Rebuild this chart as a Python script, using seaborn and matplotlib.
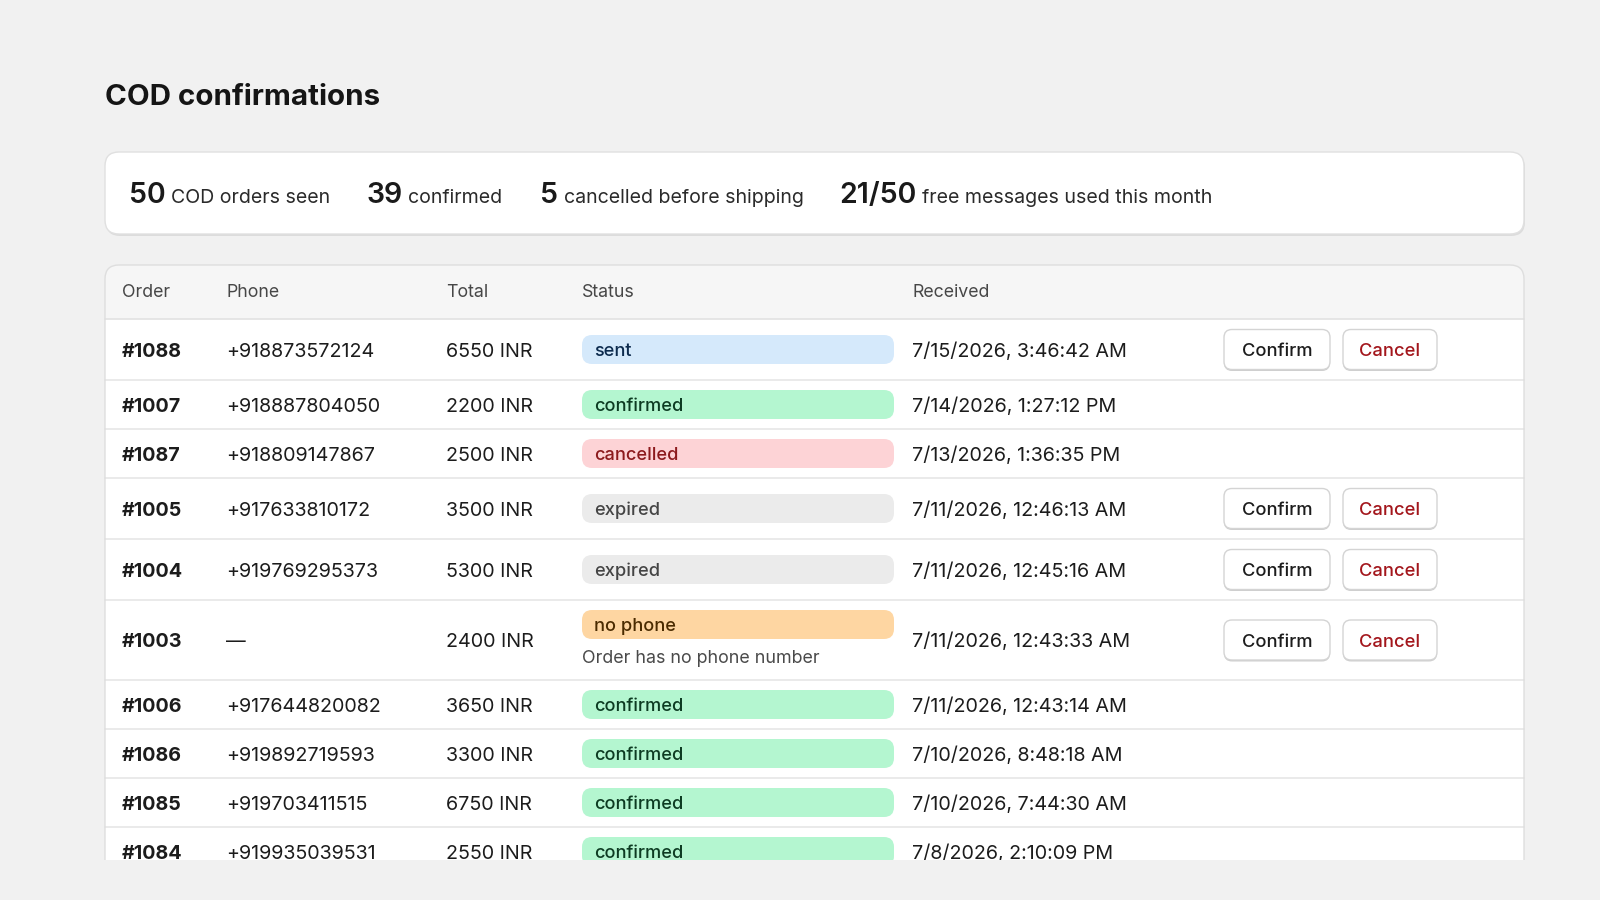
import matplotlib

matplotlib.use("Agg")
import matplotlib.pyplot as plt
import seaborn as sns
from matplotlib.patches import FancyBboxPatch, Rectangle

TITLE = "COD confirmations"

STAT_VALUES = ["50", "39", "5", "21/50"]
STAT_LABELS = ["COD orders seen", "confirmed", "cancelled before shipping", "free messages used this month"]

HEADERS = ["Order", "Phone", "Total", "Status", "Received"]

ORDERS = ["#1088", "#1007", "#1087", "#1005", "#1004", "#1003", "#1006", "#1086", "#1085", "#1084"]
PHONES = ["+918873572124", "+918887804050", "+918809147867", "+917633810172", "+919769295373",
          "—", "+917644820082", "+919892719593", "+919703411515", "+919935039531"]
TOTALS = [6550, 2200, 2500, 3500, 5300, 2400, 3650, 3300, 6750, 2550]
CURRENCY = "INR"
STATUSES = ["sent", "confirmed", "cancelled", "expired", "expired",
            "no phone", "confirmed", "confirmed", "confirmed", "confirmed"]
NOTES = ["", "", "", "", "", "Order has no phone number", "", "", "", ""]
RECEIVED = ["7/15/2026, 3:46:42 AM", "7/14/2026, 1:27:12 PM", "7/13/2026, 1:36:35 PM",
            "7/11/2026, 12:46:13 AM", "7/11/2026, 12:45:16 AM", "7/11/2026, 12:43:33 AM",
            "7/11/2026, 12:43:14 AM", "7/10/2026, 8:48:18 AM", "7/10/2026, 7:44:30 AM",
            "7/8/2026, 2:10:09 PM"]
HAS_ACTIONS = [True, False, False, True, True, True, False, False, False, False]

# pill fill / text colour per status
PILL_COLORS = {
    "sent": ("#d5e9fb", "#0d2b4e"),
    "confirmed": ("#b4f6d0", "#0d3b22"),
    "cancelled": ("#fdd3d6", "#8c1a1d"),
    "expired": ("#ebebeb", "#444444"),
    "no phone": ("#fed6a2", "#4a2b00"),
}

BG = "#f1f1f1"
TEXT = "#1c1c1c"
FONT = ["Inter", "DejaVu Sans"]


def cap(size):
    # cap height in pixels for Inter at dpi 100
    return size * 100 / 72 * 0.727


def put(ax, x, yc, s, size, **kw):
    kw.setdefault("color", TEXT)
    return ax.text(x, yc + cap(size) / 2, s, fontsize=size, va="baseline", family=FONT, **kw)


def rbox(ax, x0, y0, x1, y1, r, **kw):
    p = FancyBboxPatch((x0, y0), x1 - x0, y1 - y0, boxstyle=f"round,pad=0,rounding_size={r}", **kw)
    ax.add_patch(p)
    return p


def main():
    sns.set_theme(style="white")
    plt.rcParams["font.family"] = FONT

    fig = plt.figure(figsize=(16, 9), dpi=100, facecolor=BG)
    ax = fig.add_axes([0, 0, 1, 1])
    ax.set_xlim(0, 1600)
    ax.set_ylim(900, 0)
    ax.set_facecolor(BG)
    ax.axis("off")

    # title
    ax.text(105, 105, TITLE, fontsize=21.3, fontweight="bold", color="#151515", va="baseline", family=FONT)

    # stats card
    rbox(ax, 106, 154, 1525, 236, 14, facecolor="#dcdcdc", edgecolor="none", zorder=1)
    rbox(ax, 105, 152, 1524, 234, 14, facecolor="white", edgecolor="#e0e0e0", linewidth=1, zorder=2)
    fig.canvas.draw()
    renderer = fig.canvas.get_renderer()
    inv = ax.transData.inverted()
    stat_x = [129, 366, 540, 839]
    for x, val, lab in zip(stat_x, STAT_VALUES, STAT_LABELS):
        t = ax.text(x, 203, val, fontsize=20.5, fontweight=600, color="#1a1a1a", va="baseline",
                    family=FONT, zorder=3)
        bb = t.get_window_extent(renderer)
        x_end = inv.transform((bb.x1, bb.y0))[0]
        ax.text(x_end + 5.5, 203, lab, fontsize=14.1, color="#2a2a2a", va="baseline", family=FONT, zorder=3)

    # table card: fill, header band, then outline on top
    top, clip = 265, 860
    left, right = 105, 1524
    header_bottom = 319
    rbox(ax, left, top, right, 940, 14, facecolor="white", edgecolor="none", zorder=1)
    rbox(ax, left, top, right, header_bottom + 30, 14, facecolor="#f6f6f6", edgecolor="none", zorder=1.2)
    ax.add_patch(Rectangle((left, header_bottom), right - left, 30, facecolor="white",
                           edgecolor="none", zorder=1.3))
    rbox(ax, left, top, right, 940, 14, facecolor="none", edgecolor="#dedede", linewidth=1, zorder=4)
    ax.plot([left, right], [header_bottom, header_bottom], color="#e2e2e2", lw=1.2, zorder=2)

    col_x = [122, 226, 446, 582, 912]
    for x, h in zip(col_x, HEADERS):
        put(ax, x, 291, h, 12.8, color="#474747", zorder=3)

    y = header_bottom
    for i in range(len(ORDERS)):
        h = 49
        if HAS_ACTIONS[i]:
            h = 61
        if NOTES[i]:
            h = 80
        yc = y + h / 2
        put(ax, 122, yc, ORDERS[i], 14.2, fontweight="bold", zorder=3)
        put(ax, 226, yc, PHONES[i], 14.2, zorder=3)
        put(ax, 446, yc, f"{TOTALS[i]} {CURRENCY}", 14.2, zorder=3)
        fill, fg = PILL_COLORS[STATUSES[i]]
        pc = y + 24.5 if NOTES[i] else yc
        rbox(ax, 582, pc - 14.5, 894, pc + 14.5, 10, facecolor=fill, edgecolor="none", zorder=2)
        put(ax, 594, pc, STATUSES[i], 13.1, color=fg, fontweight=500, zorder=3)
        if NOTES[i]:
            put(ax, 582, y + 57, NOTES[i], 12.85, color="#4a4a4a", zorder=3)
        put(ax, 912, yc, RECEIVED[i], 14.2, zorder=3)
        if HAS_ACTIONS[i]:
            for (x0, x1), lab, c in [((1224, 1330), "Confirm", "#1c1c1c"), ((1343, 1437), "Cancel", "#a3161c")]:
                rbox(ax, x0, yc - 19, x1, yc + 21.5, 8, facecolor="#cfcfcf", edgecolor="none", zorder=2)
                rbox(ax, x0, yc - 20, x1, yc + 20, 8, facecolor="white", edgecolor="#d4d4d4", lw=1, zorder=2.1)
                put(ax, (x0 + x1) / 2, yc, lab, 13.2, color=c, ha="center", fontweight=500, zorder=3)
        y += h
        ax.plot([left, right], [y, y], color="#e6e6e6", lw=1.2, zorder=2)

    # page background hides the rest of the table below the fold
    ax.add_patch(Rectangle((0, clip), 1600, 900 - clip, facecolor=BG, edgecolor="none", zorder=10))

    fig.savefig("out.png", dpi=100, facecolor=BG)
    plt.close(fig)


if __name__ == "__main__":
    main()
